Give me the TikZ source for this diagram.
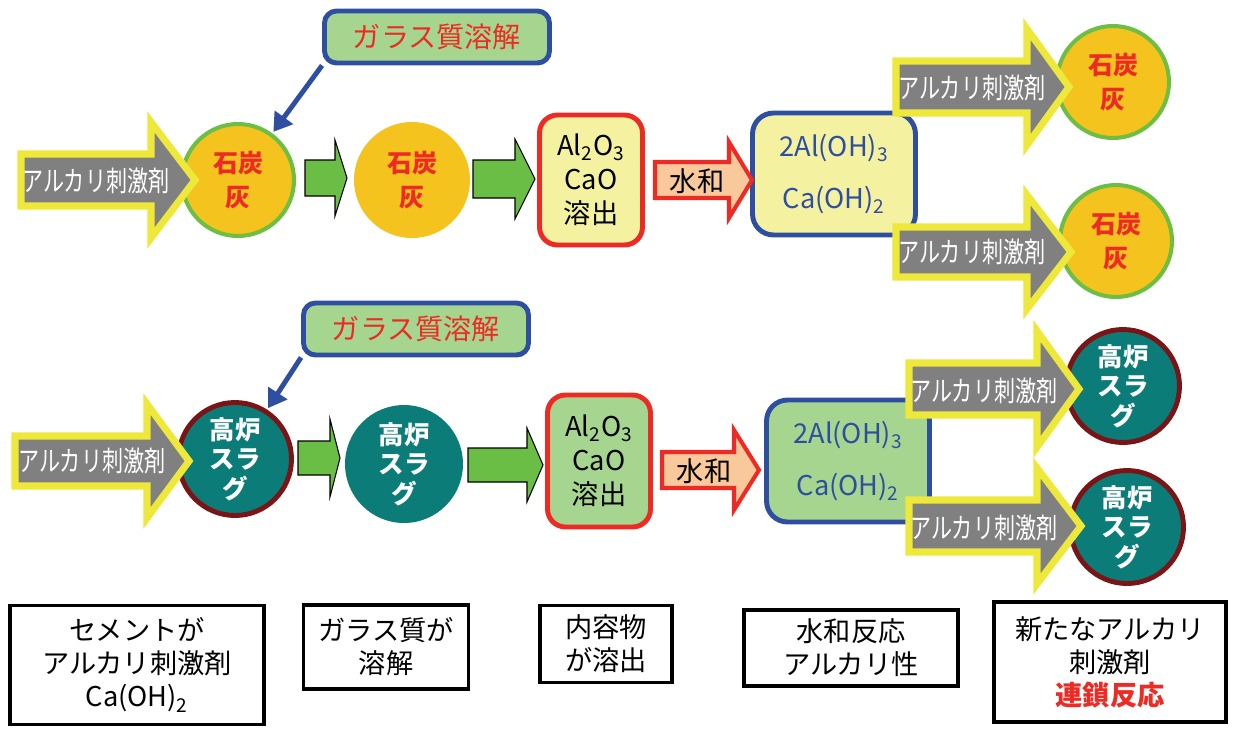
\documentclass[tikz,border=0pt]{standalone}
\usepackage{fontspec}
\setmainfont{Noto Sans CJK JP}
\newfontfamily\narrowjp[FakeStretch=0.75]{Noto Sans CJK JP}
\usetikzlibrary{arrows.meta}

\definecolor{coalfill}{RGB}{244,195,30}
\definecolor{coalrim}{RGB}{109,190,69}
\definecolor{slagfill}{RGB}{12,124,120}
\definecolor{slagrim}{RGB}{123,20,22}
\definecolor{glassfill}{RGB}{166,213,143}
\definecolor{rimblue}{RGB}{46,78,161}
\definecolor{textred}{RGB}{238,42,36}
\definecolor{paleyellow}{RGB}{244,241,161}
\definecolor{salmon}{RGB}{249,200,155}
\definecolor{arrowgreen}{RGB}{106,189,69}
\definecolor{alkyellow}{RGB}{237,232,58}
\definecolor{alkgray}{RGB}{128,128,128}

% block arrow: style, tail x, head base x, tip x, mid y, body half, head half
\newcommand{\fatarrow}[7]{%
  \draw[#1] (#2,{#5-#6}) -- (#3,{#5-#6}) -- (#3,{#5-#7}) -- (#4,#5)
    -- (#3,{#5+#7}) -- (#3,{#5+#6}) -- (#2,{#5+#6}) -- cycle;}

\tikzset{
  coal/.style={circle, minimum size=2.24cm, inner sep=0pt, fill=coalfill, draw=coalrim,
    line width=2.3pt, text=textred, align=center, font=\bfseries\fontsize{14.2}{19}\selectfont},
  coalbare/.style={coal, draw=none, minimum size=2.32cm},
  slag/.style={circle, minimum size=2.26cm, inner sep=0pt, fill=slagfill, draw=slagrim,
    line width=2.8pt, text=white, align=center, font=\bfseries\fontsize{14.5}{16.8}\selectfont},
  slagbare/.style={slag, draw=none, minimum size=2.36cm},
  glass/.style={rectangle, rounded corners=0.24cm, draw=rimblue, fill=glassfill, line width=2.8pt,
    minimum width=4.5cm, minimum height=1.04cm, text=textred, font=\fontsize{16}{19}\selectfont},
  elut/.style={rectangle, rounded corners=0.36cm, draw=textred, line width=2.8pt,
    minimum width=2.06cm, minimum height=2.6cm, align=center, font=\fontsize{15.5}{19.3}\selectfont},
  hydr/.style={rectangle, rounded corners=0.42cm, draw=rimblue, line width=2.8pt, text=rimblue,
    minimum width=3.26cm, minimum height=2.44cm, align=center, font=\fontsize{15.5}{19}\selectfont},
  caption/.style={rectangle, draw=black, line width=2pt, align=center, fill=white,
    font=\fontsize{15.5}{18.8}\selectfont},
  alkarrow/.style={draw=alkyellow, fill=alkgray, line width=4pt},
  alktext/.style={text=white, inner sep=0pt, font=\narrowjp\fontsize{16}{19}\selectfont},
  greenarrow/.style={draw=black, fill=arrowgreen, line width=0.6pt},
  wetarrow/.style={draw=textred, fill=salmon, line width=2.3pt},
  wettext/.style={inner sep=0pt, font=\fontsize{15.5}{19}\selectfont},
  feed/.style={draw=rimblue, line width=2.8pt, shorten >=1pt, -{Triangle[length=0.36cm,width=0.44cm]}}
}

\begin{document}
\begin{tikzpicture}[x=0.02cm,y=-0.02cm]
\useasboundingbox (0,0) rectangle (1234,728);

% upper row: fly ash
\node[glass] (glassA) at (437,37) {ガラス質溶解};
\node[coal] (coalA) at (238,180) {石炭\\灰};
\node[coalbare] (coalB) at (412,180) {石炭\\灰};
\node[elut, fill=paleyellow] (elutA) at (591,180) {Al\textsubscript{2}O\textsubscript{3}\\CaO\\溶出};
\node[hydr, fill=paleyellow] (hydrA) at (834,174) {2Al(OH)\textsubscript{3}\\[11pt]Ca(OH)\textsubscript{2}};
\node[coal] (coalC) at (1113,82) {石炭\\灰};
\node[coal] (coalD) at (1116,241) {石炭\\灰};
\draw[feed] (glassA.south west) -- (coalA);

\fatarrow{greenarrow}{305}{335}{347}{178}{18}{38}
\fatarrow{greenarrow}{473}{515}{535}{179}{19}{40}
\fatarrow{wetarrow}{655}{729}{752}{180}{18}{38}
\node[wettext] (wetA) at (697,181) {水和};

\fatarrow{alkarrow}{21}{151}{195}{180}{26}{58}
\node[alktext] (alkA) at (96,181) {アルカリ刺激剤};
\fatarrow{alkarrow}{896}{1027}{1069}{87}{26}{58}
\node[alktext] (alkB) at (972,88) {アルカリ刺激剤};
\fatarrow{alkarrow}{896}{1027}{1071}{252}{25}{57}
\node[alktext] (alkC) at (972,252) {アルカリ刺激剤};

% lower row: blast furnace slag
\node[glass] (glassB) at (416,329) {ガラス質溶解};
\node[slag] (slagA) at (235,459) {高炉\\スラ\\グ};
\node[slagbare] (slagB) at (404,464) {高炉\\スラ\\グ};
\node[elut, fill=glassfill, minimum height=2.64cm] (elutB) at (599,461) {Al\textsubscript{2}O\textsubscript{3}\\CaO\\溶出};
\node[hydr, fill=glassfill] (hydrB) at (848,461) {2Al(OH)\textsubscript{3}\\[11pt]Ca(OH)\textsubscript{2}};
\node[slag] (slagC) at (1123,386) {高炉\\スラ\\グ};
\node[slag] (slagD) at (1127,527) {高炉\\スラ\\グ};
\draw[feed] (glassB.south west) -- (slagA);

\fatarrow{greenarrow}{298}{330}{340}{458}{17}{39}
\fatarrow{greenarrow}{468}{527}{543}{465}{17}{37}
\fatarrow{wetarrow}{662}{734}{759}{470}{18}{40}
\node[wettext] (wetB) at (704,471) {水和};

\fatarrow{alkarrow}{15}{147}{189}{461}{25}{57}
\node[alktext] (alkD) at (92,461) {アルカリ刺激剤};
\fatarrow{alkarrow}{909}{1037}{1079}{389}{26}{58}
\node[alktext] (alkE) at (984,391) {アルカリ刺激剤};
\fatarrow{alkarrow}{909}{1037}{1081}{526}{26}{58}
\node[alktext] (alkF) at (984,528) {アルカリ刺激剤};

% captions
\node[caption, minimum width=5.08cm, minimum height=2.38cm] (capA) at (137,665) {セメントが\\アルカリ刺激剤\\Ca(OH)\textsubscript{2}};
\node[caption, minimum width=3.3cm, minimum height=1.68cm] (capB) at (386,647) {ガラス質が\\溶解};
\node[caption, minimum width=2.64cm, minimum height=1.54cm] (capC) at (606,644) {内容物\\が溶出};
\node[caption, minimum width=4.28cm, minimum height=1.52cm] (capD) at (851,648) {水和反応\\アルカリ性};
\node[caption, minimum width=4.64cm, minimum height=2.4cm] (capE) at (1110,662) {新たなアルカリ\\刺激剤\\{\color{textred}\bfseries 連鎖反応}};
\end{tikzpicture}
\end{document}
